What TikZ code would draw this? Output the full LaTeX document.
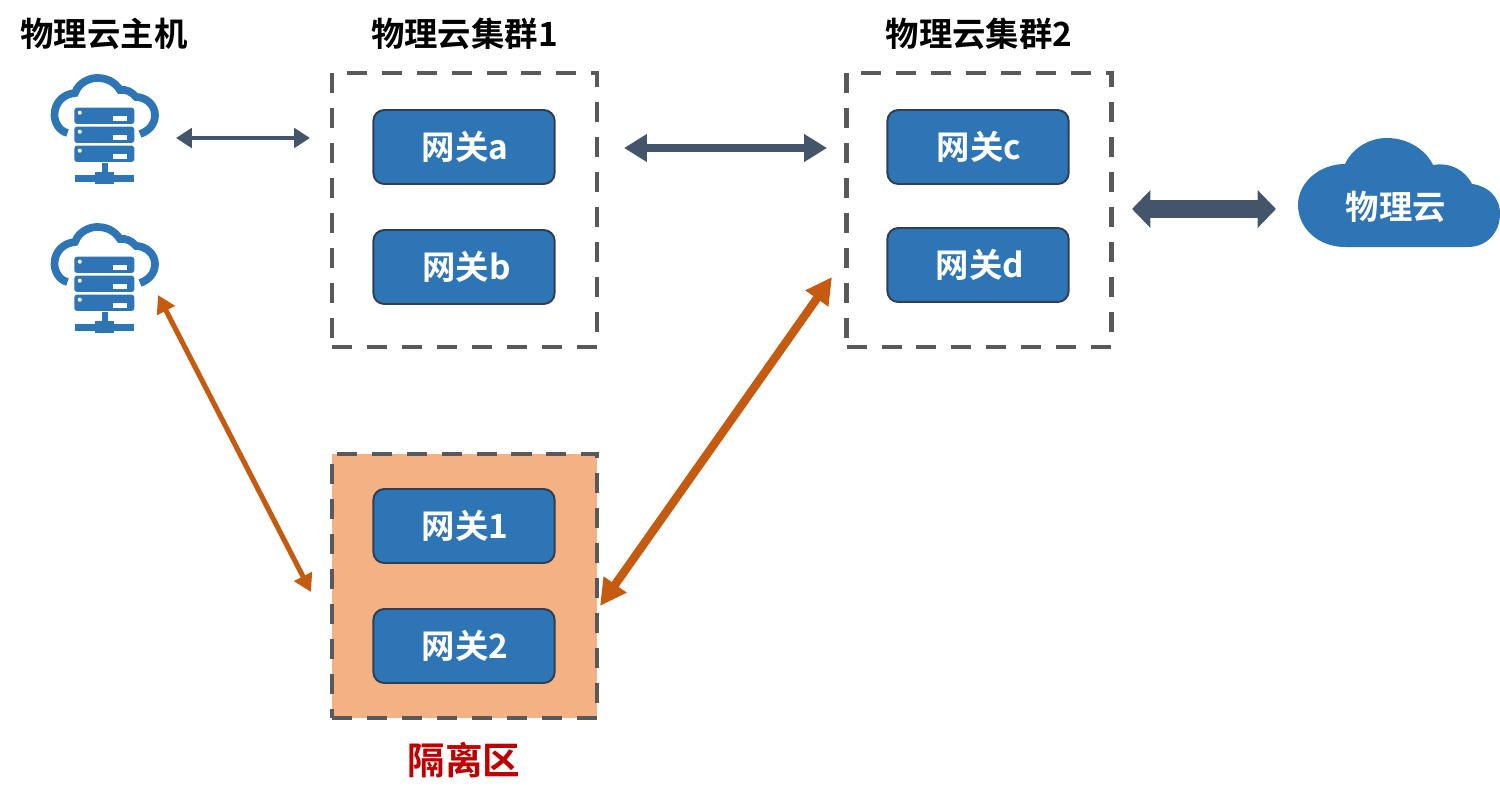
\documentclass[tikz,border=0pt]{standalone}
\usepackage{fontspec}
\setmainfont{Noto Sans CJK SC}[BoldFont={Noto Sans CJK SC Bold}]
\usetikzlibrary{arrows.meta,positioning}
\definecolor{blueA}{HTML}{2E75B6}
\definecolor{edgeA}{HTML}{2F3E50}
\definecolor{dashA}{HTML}{595959}
\definecolor{slateA}{HTML}{44546A}
\definecolor{orangeA}{HTML}{C55A11}
\definecolor{peachA}{HTML}{F4B183}
\definecolor{redA}{HTML}{C00000}
\tikzset{
  gw/.style={draw=edgeA,line width=1.1pt,fill=blueA,rounded corners=6.2pt,minimum width=3.626cm,minimum height=1.48cm,inner sep=0pt,text=white,font=\fontsize{19pt}{22pt}\selectfont\bfseries},
  zone/.style={draw=dashA,line width=2.7pt,dash pattern=on 11.4pt off 8.5pt,inner sep=0pt,minimum width=5.3cm,minimum height=5.48cm},
  heading/.style={font=\fontsize{19pt}{22pt}\selectfont\bfseries,text=black,inner sep=0pt},
  thinslate/.style={slateA,line width=2.4pt,{Triangle[length=9pt,width=11pt]}-{Triangle[length=9pt,width=11pt]}},
  midslate/.style={slateA,line width=5pt,{Triangle[length=13pt,width=15pt]}-{Triangle[length=13pt,width=15pt]}},
  bigslate/.style={slateA,line width=10.8pt,{Triangle[length=10.5pt,width=21pt]}-{Triangle[length=10.5pt,width=21pt]}},
  thinorange/.style={orangeA,line width=2.9pt,{Triangle[length=10pt,width=11pt]}-{Triangle[length=10pt,width=11pt]}},
  midorange/.style={orangeA,line width=4.8pt,{Triangle[length=15pt,width=15pt]}-{Triangle[length=15pt,width=15pt]}},
  pics/server/.style={code={
    \draw[blueA,line width=4.4pt,line cap=butt]
      (67.5,133) .. controls (59,131) and (54.5,122) .. (54.5,115)
      .. controls (54.5,102) and (64,94) .. (75,93)
      .. controls (79,82) and (90,78) .. (97,78)
      .. controls (106,78) and (114,81) .. (120,90)
      .. controls (126,89) and (132,92) .. (136,97)
      .. controls (146,97) and (155,105) .. (155,115)
      .. controls (155,124) and (149,131) .. (140,134);
    \foreach \yy in {107.7,126.7,145.7}{
      \fill[blueA,rounded corners=1.5pt] (74.3,\yy) rectangle (134.3,\yy+16.2);
      \fill[white] (79.8,\yy+5) circle[radius=2];
      \fill[white] (112.7,\yy+8.3) rectangle (126.7,\yy+13);
    }
    \fill[blueA] (101.7,163) rectangle (107.7,176);
    \fill[blueA] (75,175) rectangle (134,181.7);
    \fill[blueA] (95,171.7) rectangle (114,184);
  }}
}
\begin{document}
\begin{tikzpicture}[x=0.02cm,y=-0.02cm]
\useasboundingbox (0,0) rectangle (1500,805);
% headings
\node[heading] (t0) at (104,34) {物理云主机};
\node[heading] (t1) at (464.5,34) {物理云集群1};
\node[heading] (t2) at (979,34) {物理云集群2};
\node[heading,text=redA,font=\fontsize{21.4pt}{25pt}\selectfont\bfseries] (t3) at (464,760) {隔离区};
% zones
\node[zone] (cluster1) at (464.5,210) {};
\node[zone] (cluster2) at (979,210) {};
\node[zone,fill=peachA,minimum height=5.28cm] (quarantine) at (464.5,586) {};
% gateways
\node[gw] (gwa) at (464,147) {\raisebox{-0.6pt}{\hspace{1pt}网关a}};
\node[gw] (gwb) at (464,267) {\raisebox{-0.6pt}{\hspace{3pt}网关b}};
\node[gw] (gwc) at (978,147) {\raisebox{-0.6pt}{\hspace{1pt}网关c}};
\node[gw] (gwd) at (978,265) {\raisebox{-0.6pt}{\hspace{2pt}网关d}};
\node[gw] (gw1) at (464,526) {\raisebox{-0.6pt}{\hspace{1pt}网关1}};
\node[gw] (gw2) at (464,646) {\raisebox{-0.6pt}{\hspace{1pt}网关2}};
% hosts
\pic (hostA) at (0,0) {server};
\pic (hostB) at (0,149) {server};
% cloud
\fill[blueA] (1345,247)
  .. controls (1318,247) and (1298,228) .. (1298,205)
  .. controls (1298,182) and (1320,164) .. (1345,164)
  .. controls (1352,149) and (1368,138) .. (1387,138)
  .. controls (1408,138) and (1426,150) .. (1433,165)
  .. controls (1450,162) and (1465,170) .. (1472,184)
  .. controls (1488,186) and (1500,197) .. (1500,214)
  .. controls (1500,232) and (1487,247) .. (1468,247) -- cycle;
\node[heading,text=white] (cloud) at (1396,207) {物理云};
% connector ends
\coordinate (a1) at (176,138); \coordinate (a2) at (310,138);
\coordinate (b1) at (624,148); \coordinate (b2) at (827,148);
\coordinate (c1) at (1132,209); \coordinate (c2) at (1276,209);
\coordinate (d1) at (158,295); \coordinate (d2) at (311,592);
\coordinate (e1) at (600,606); \coordinate (e2) at (832,277);
\draw[thinslate] (a1) -- (a2);
\draw[midslate] (b1) -- (b2);
\draw[bigslate] (c1) -- (c2);
\draw[thinorange] (d1) -- (d2);
\draw[midorange] (e1) -- (e2);
\end{tikzpicture}
\end{document}
